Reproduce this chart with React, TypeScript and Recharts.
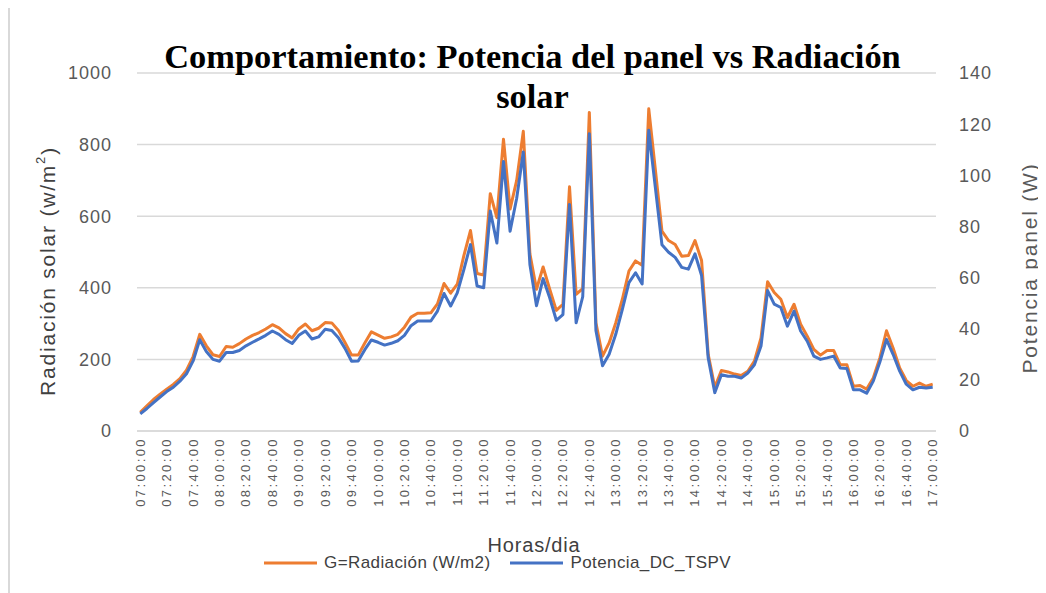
import { CartesianGrid, Legend, Line, LineChart, XAxis, YAxis } from 'recharts';

// 5-minute readings from 07:00:00 to 17:00:00
const pad = (n: number) => String(n).padStart(2, '0');
const horas: string[] = [];
for (let m = 7 * 60; m <= 17 * 60; m += 5) {
  horas.push(`${pad(Math.floor(m / 60))}:${pad(m % 60)}:00`);
}

const radiacion = [
  52, 70, 88, 103, 117, 130, 146, 170, 208, 270,
  238, 213, 208, 236, 234, 244, 257, 267, 275, 285,
  297, 288, 272, 260, 285, 299, 280, 287, 303, 302,
  281, 247, 212, 212, 246, 277, 268, 259, 263, 270,
  290, 318, 329, 329, 330, 355, 412, 385, 410, 490,
  560, 440, 436, 663, 596, 815, 620, 700, 837, 495,
  396, 458, 396, 337, 354, 682, 382, 398, 890, 302,
  209, 246, 302, 368, 447, 475, 463, 900, 730, 558,
  532, 521, 488, 490, 532, 476, 214, 122, 169, 165,
  159, 155, 167, 195, 260, 417, 387, 368, 317, 354,
  298, 265, 228, 212, 225, 225, 185, 185, 125, 127,
  117, 148, 204, 280, 232, 176, 141, 125, 134, 125,
  131,
];

const potencia = [
  6.7, 8.8, 11.1, 13.3, 15.4, 17.1, 19.5, 22.4, 27.4, 35.7,
  31.1, 28.0, 27.3, 30.7, 30.7, 31.5, 33.3, 34.7, 36.0, 37.4,
  39.1, 37.8, 35.7, 34.2, 37.4, 39.1, 36.0, 36.8, 39.8, 39.3,
  36.5, 32.3, 27.3, 27.4, 31.8, 35.6, 34.7, 33.6, 34.3, 35.3,
  37.4, 41.2, 43.0, 43.0, 43.0, 46.9, 53.8, 48.9, 54.0, 63.1,
  72.9, 56.7, 56.0, 86.0, 73.5, 105.4, 78.1, 91.0, 109.1, 65.1,
  49.0, 59.6, 52.1, 43.3, 45.5, 88.6, 42.3, 52.5, 116.2, 39.3,
  25.5, 30.0, 37.8, 47.6, 58.0, 61.9, 57.5, 117.6, 95.2, 72.8,
  69.9, 67.9, 64.0, 63.3, 69.3, 60.8, 28.6, 15.0, 22.0, 21.4,
  21.4, 20.7, 22.7, 25.9, 33.2, 54.9, 49.6, 48.3, 41.0, 46.9,
  39.1, 35.1, 29.3, 28.0, 28.6, 29.3, 24.6, 24.4, 16.1, 16.1,
  14.8, 19.5, 27.0, 35.8, 30.0, 23.4, 18.3, 16.1, 17.1, 16.8,
  17.1,
];

const radTicks = [0, 200, 400, 600, 800, 1000];
const potTicks = [0, 20, 40, 60, 80, 100, 120, 140];

const data = horas.map((hora, i) => ({ hora, radiacion: radiacion[i], potencia: potencia[i] }));

const FONT = '"Liberation Sans", Arial, sans-serif';
const tickStyle = { fill: '#595959', fontSize: 18, fontFamily: FONT, letterSpacing: 1 };

const TimeTick = (props: any) => {
  const { x, y, payload } = props;
  return (
    <text
      x={x}
      y={y}
      dy={4.5}
      transform={`rotate(-90, ${x}, ${y})`}
      textAnchor="end"
      fill="#595959"
      fontSize={13}
      letterSpacing={2.4}
      fontFamily={FONT}
    >
      {payload.value}
    </text>
  );
};

// axis titles sit at fixed spots in the chart's own coordinates
const leftTitle = () => {
  const cx = 39.5;
  const cy = 263;
  return (
    <text
      x={cx}
      y={cy}
      transform={`rotate(-90, ${cx}, ${cy})`}
      textAnchor="middle"
      dominantBaseline="central"
      fill="#404040"
      fontSize={21}
      letterSpacing={1.8}
      fontFamily={FONT}
    >
      Radiación solar (w/m
      <tspan dy={-8} fontSize={13}>2</tspan>
      <tspan dy={8}>)</tspan>
    </text>
  );
};

const rightTitle = () => {
  const cx = 1021;
  const cy = 260;
  return (
    <text
      x={cx}
      y={cy}
      transform={`rotate(-90, ${cx}, ${cy})`}
      textAnchor="middle"
      dominantBaseline="central"
      fill="#595959"
      fontSize={21}
      letterSpacing={1.8}
      fontFamily={FONT}
    >
      Potencia panel (W)
    </text>
  );
};

const bottomTitle = () => (
  <text
    x={526}
    y={544}
    textAnchor="middle"
    fill="#404040"
    fontSize={20}
    letterSpacing={0.8}
    fontFamily={FONT}
  >
    Horas/dia
  </text>
);

const renderLegend = (props: any) => {
  const { payload = [] } = props;
  return (
    <div
      style={{
        height: 26,
        display: 'flex',
        justifyContent: 'center',
        alignItems: 'center',
        paddingRight: 78,
        gap: 20,
        fontFamily: FONT,
        fontSize: 17,
        letterSpacing: 0.4,
        color: '#404040',
      }}
    >
      {payload.map((entry: any) => (
        <div key={entry.value} style={{ display: 'flex', alignItems: 'center', gap: 7 }}>
          <svg width={53} height={6}>
            <line x1={0} y1={3} x2={53} y2={3} stroke={entry.color} strokeWidth={3} />
          </svg>
          <span>{entry.value}</span>
        </div>
      ))}
    </div>
  );
};

export default function App() {
  return (
    <div style={{ position: 'relative', width: 1038, height: 585, background: '#fff' }}>
      <div style={{ position: 'absolute', left: 0, top: 0, bottom: 0, width: 1.5, background: '#d9d9d9' }} />
      <LineChart width={1038} height={585} data={data} margin={{ top: 65, right: 50, left: 69, bottom: 17 }}>
        <CartesianGrid yAxisId="left" vertical={false} stroke="#d9d9d9" strokeWidth={1.5} />
        <XAxis
          dataKey="hora"
          interval={3}
          height={119}
          tick={<TimeTick />}
          tickLine={false}
          tickSize={0}
          tickMargin={6}
          axisLine={{ stroke: '#d9d9d9', strokeWidth: 1.5 }}
          padding={{ left: 3.3, right: 3.3 }}
          label={bottomTitle}
        />
        <YAxis
          yAxisId="left"
          orientation="left"
          width={60}
          domain={[0, 1000]}
          ticks={radTicks}
          tick={tickStyle}
          tickLine={false}
          tickSize={0}
          tickMargin={25}
          axisLine={false}
          label={leftTitle}
        />
        <YAxis
          yAxisId="right"
          orientation="right"
          width={60}
          domain={[0, 140]}
          ticks={potTicks}
          tick={tickStyle}
          tickLine={false}
          tickSize={0}
          tickMargin={23}
          axisLine={false}
          label={rightTitle}
        />
        <Legend verticalAlign="bottom" content={renderLegend} />
        <Line
          yAxisId="left"
          type="linear"
          dataKey="radiacion"
          name="G=Radiación (W/m2)"
          stroke="#ED7D31"
          strokeWidth={3}
          dot={false}
          strokeLinejoin="round"
          isAnimationActive={false}
        />
        <Line
          yAxisId="right"
          type="linear"
          dataKey="potencia"
          name="Potencia_DC_TSPV"
          stroke="#4472C4"
          strokeWidth={3}
          dot={false}
          strokeLinejoin="round"
          isAnimationActive={false}
        />
      </LineChart>
      <div
        style={{
          position: 'absolute',
          top: 27.5,
          left: 0,
          width: 1038,
          paddingLeft: 11,
          boxSizing: 'border-box',
          textAlign: 'center',
          fontFamily: '"Liberation Serif", "Times New Roman", serif',
          fontWeight: 'bold',
          fontSize: 34.4,
          lineHeight: '40px',
          color: '#000',
          pointerEvents: 'none',
        }}
      >
        Comportamiento: Potencia del panel vs Radiación
        <br />
        solar
      </div>
    </div>
  );
}
